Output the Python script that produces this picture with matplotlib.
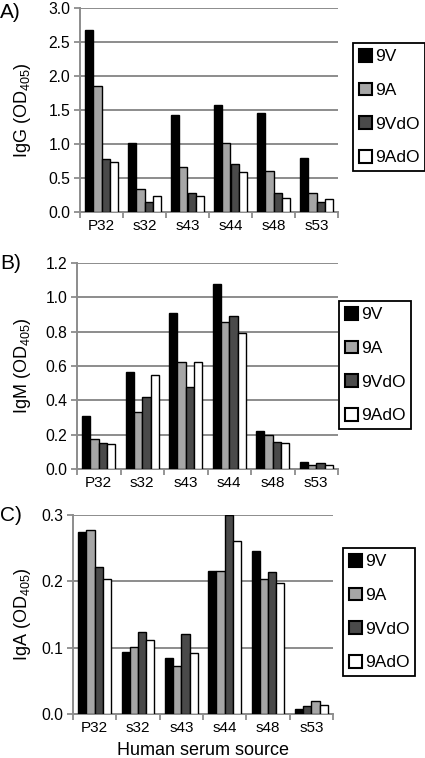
import matplotlib
matplotlib.use("Agg")
import matplotlib.pyplot as plt
import numpy as np
from matplotlib.patches import Patch

plt.rcParams['font.family'] = ['Liberation Sans', 'DejaVu Sans']
plt.rcParams['mathtext.fontset'] = 'custom'
plt.rcParams['mathtext.rm'] = 'Liberation Sans'
plt.rcParams['mathtext.it'] = 'Liberation Sans:italic'

categories = ["P32", "s32", "s43", "s44", "s48", "s53"]
series = ["9V", "9A", "9VdO", "9AdO"]

igg_9V   = [2.67, 1.01, 1.43, 1.58, 1.45, 0.79]
igg_9A   = [1.86, 0.34, 0.66, 1.01, 0.60, 0.285]
igg_9VdO = [0.78, 0.14, 0.285, 0.70, 0.285, 0.15]
igg_9AdO = [0.74, 0.23, 0.24, 0.585, 0.205, 0.19]

igm_9V   = [0.306, 0.567, 0.908, 1.08, 0.222, 0.041]
igm_9A   = [0.173, 0.333, 0.622, 0.859, 0.198, 0.025]
igm_9VdO = [0.149, 0.42, 0.478, 0.89, 0.159, 0.035]
igm_9AdO = [0.143, 0.545, 0.622, 0.794, 0.149, 0.025]

iga_9V   = [0.274, 0.094, 0.084, 0.216, 0.245, 0.007]
iga_9A   = [0.277, 0.1015, 0.072, 0.215, 0.203, 0.012]
iga_9VdO = [0.222, 0.124, 0.12, 0.30, 0.214, 0.020]
iga_9AdO = [0.2035, 0.112, 0.0915, 0.261, 0.198, 0.014]

colors = {"9V": "#000000", "9A": "#a6a6a6", "9VdO": "#4a4a4a", "9AdO": "#ffffff"}

fig = plt.figure(figsize=(4.25, 7.58), dpi=100)
W, H = 425, 758

def add_axes(l, r, t, b):
    return fig.add_axes([l / W, 1 - b / H, (r - l) / W, (b - t) / H])

panels = [
    dict(box=(80, 338, 8, 212), data=[igg_9V, igg_9A, igg_9VdO, igg_9AdO],
         ymax=3.0, step=0.5, fmt="{:.1f}", ylabel="IgG (OD$\\mathregular{_{405}}$)",
         tag="A)", tagxy=(0, 3), leg=(353, 43), xlabel=None),
    dict(box=(77, 338, 263, 469), data=[igm_9V, igm_9A, igm_9VdO, igm_9AdO],
         ymax=1.2, step=0.2, fmt="{:.1f}", ylabel="IgM (OD$\\mathregular{_{405}}$)",
         tag="B)", tagxy=(0, 254), leg=(339, 301), xlabel=None),
    dict(box=(73, 333, 515, 714), data=[iga_9V, iga_9A, iga_9VdO, iga_9AdO],
         ymax=0.3, step=0.1, fmt="{:.1f}", ylabel="IgA (OD$\\mathregular{_{405}}$)",
         tag="C)", tagxy=(0, 506), leg=(343, 548), xlabel="Human serum source"),
]

gcol = "#8c8c8c"
x = np.arange(len(categories))
bw = 0.19
for pi, p in enumerate(panels):
    l, r, t, b = p["box"]
    ax = add_axes(l, r, t, b)
    for si, (name, vals) in enumerate(zip(series, p["data"])):
        cols = [colors[name]] * len(vals)
        # panel C, s53: bars drawn with swapped fills in the original
        if pi == 2:
            swap = {"9A": "9VdO", "9VdO": "9A"}
            if name in swap:
                cols[-1] = colors[swap[name]]
        ax.bar(x + (si - 1.5) * bw, vals, width=bw, color=cols,
               edgecolor="black", linewidth=1.0, zorder=3)
    ax.set_xlim(-0.5, len(categories) - 0.5)
    ax.set_ylim(0, p["ymax"])
    yt = np.arange(0, p["ymax"] + 1e-9, p["step"])
    ax.set_yticks(yt)
    ax.set_yticklabels([p["fmt"].format(v) for v in yt], fontsize=11.3)
    ax.yaxis.grid(True, color=gcol, linewidth=1.4, zorder=0)
    ax.set_axisbelow(True)
    ax.set_xticks(x)
    ax.set_xticklabels(categories, fontsize=11)
    ax.set_xticks(np.arange(-0.5, len(categories)), minor=True)
    ax.tick_params(axis="x", which="major", length=0, pad=5)
    ax.tick_params(axis="x", which="minor", length=4, color=gcol, width=1.3)
    ax.tick_params(axis="y", length=4, color=gcol, width=1.3, pad=3)
    for s in ["top", "right"]:
        ax.spines[s].set_visible(False)
    for s in ["left", "bottom"]:
        ax.spines[s].set_color(gcol)
        ax.spines[s].set_linewidth(1.4)
    ax.set_ylabel(p["ylabel"], fontsize=13)
    ax.yaxis.set_label_coords((33 - l) / (r - l), 0.5)
    fig.text(p["tagxy"][0] / W, 1 - p["tagxy"][1] / H, p["tag"], fontsize=15,
             ha="left", va="top")
    if p["xlabel"]:
        ax.set_xlabel(p["xlabel"], fontsize=13, labelpad=5)
    handles = [Patch(facecolor=colors[n], edgecolor="black", linewidth=1.5) for n in series]
    lx, ly = p["leg"]
    leg = fig.legend(handles, series, loc="upper left",
                     bbox_to_anchor=(lx / W, 1 - ly / H), bbox_transform=fig.transFigure,
                     fontsize=12.5, handlelength=0.75, handleheight=0.75, handletextpad=0.15,
                     labelspacing=1.05, borderpad=0.35, borderaxespad=0, fancybox=False,
                     framealpha=1, edgecolor="black")
    leg.get_frame().set_linewidth(1.3)

fig.savefig("out.png", dpi=100)
